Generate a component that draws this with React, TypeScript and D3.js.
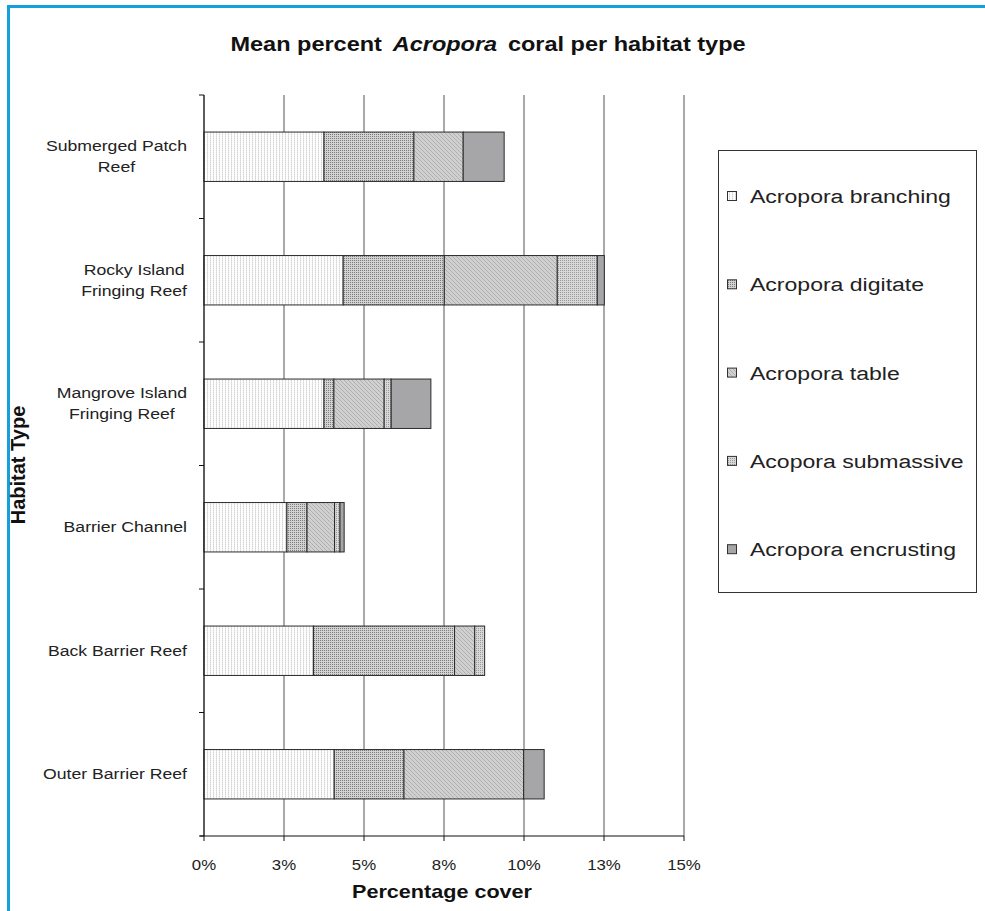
import React from 'react';
import * as d3 from 'd3';

const categories = [
  'Submerged Patch\nReef',
  'Rocky Island\nFringing Reef',
  'Mangrove Island\nFringing Reef',
  'Barrier Channel',
  'Back Barrier Reef',
  'Outer Barrier Reef',
];
const seriesNames = [
  'Acropora branching',
  'Acropora digitate',
  'Acropora table',
  'Acopora submassive',
  'Acropora encrusting',
];
const branching = [3.75, 4.35, 3.75, 2.59, 3.42, 4.07];
const digitate = [2.81, 3.16, 0.31, 0.63, 4.41, 2.18];
const table = [1.54, 3.53, 1.57, 0.86, 0.63, 3.74];
const submassive = [0, 1.25, 0.22, 0.17, 0.31, 0];
const encrusting = [1.28, 0.22, 1.24, 0.13, 0, 0.64];
const xTickValues = [0, 2.5, 5, 7.5, 10, 12.5, 15];
const xTickLabels = ['0%', '3%', '5%', '8%', '10%', '13%', '15%'];

const FONT = "'Liberation Sans', Arial, sans-serif";
const SX = 1.2;
const fills = ['url(#pBranch)', 'url(#pDigit)', 'url(#pTable)', 'url(#pSub)', '#a6a6a9'];

let ctx: CanvasRenderingContext2D | null = null;
function measure(text: string, font: string) {
  if (!ctx) ctx = document.createElement('canvas').getContext('2d');
  ctx!.font = font;
  return ctx!.measureText(text).width;
}

export default function App() {
  const W = 985, H = 911;
  const x = d3.scaleLinear().domain([0, 15]).range([204, 684]);
  const y = d3.scaleBand<string>().domain(categories).range([95, 836]).paddingInner(0.6).paddingOuter(0.3);
  const keys = ['b', 'd', 't', 's', 'e'];
  const rows = categories.map((c, i) => ({
    cat: c, b: branching[i], d: digitate[i], t: table[i], s: submassive[i], e: encrusting[i],
  }));
  const stacked = d3.stack<any>().keys(keys)(rows);
  const step = y.step();
  const y0 = y.range()[0];
  const boundaries = d3.range(categories.length + 1).map((i) => y0 + i * step);
  const catSize = 14.7;
  const catFont = `${catSize}px ${FONT}`;

  return (
    <svg width={W} height={H} style={{ position: 'absolute', left: 0, top: 0, background: '#fff' }}>
      <defs>
        <pattern id="pBranch" width={3} height={2} patternUnits="userSpaceOnUse">
          <rect width={3} height={2} fill="#fdfdfd" />
          <rect width={1} height={1} fill="#d4d4d4" />
          <rect y={1} width={1} height={1} fill="#e6e6e6" />
        </pattern>
        <pattern id="pDigit" width={2} height={2} patternUnits="userSpaceOnUse">
          <rect width={2} height={2} fill="#d2d2d2" />
          <rect width={1} height={1} fill="#7c7c7c" />
        </pattern>
        <pattern id="pTable" width={4} height={4} patternUnits="userSpaceOnUse">
          <rect width={4} height={4} fill="#d0d0d0" />
          <rect x={0} y={0} width={1} height={1} fill="#acacac" />
          <rect x={1} y={1} width={1} height={1} fill="#b4b4b4" />
          <rect x={2} y={2} width={1} height={1} fill="#acacac" />
          <rect x={3} y={3} width={1} height={1} fill="#b4b4b4" />
        </pattern>
        <pattern id="pSub" width={2} height={2} patternUnits="userSpaceOnUse">
          <rect width={2} height={2} fill="#d8d8d8" />
          <rect width={1} height={1} fill="#9a9a9a" />
        </pattern>
      </defs>

      {/* blue frame */}
      <line x1={8.5} y1={5} x2={8.5} y2={H} stroke="#14a0dc" strokeWidth={3} />
      <line x1={7} y1={6.5} x2={W} y2={6.5} stroke="#14a0dc" strokeWidth={3} />

      {/* title */}
      <g transform={`translate(488,51) scale(${SX},1)`}>
        <text textAnchor="middle" fontFamily={FONT} fontWeight="bold" fontSize={19.6} fill="#111">
          <tspan>Mean percent</tspan>
          <tspan dx={9} fontStyle="italic">Acropora</tspan>
          <tspan dx={9}>coral per habitat type</tspan>
        </text>
      </g>

      {/* gridlines */}
      {xTickValues.map((v) => (
        <line key={'g' + v} x1={x(v)} x2={x(v)} y1={95} y2={836} stroke="#555" strokeWidth={1} />
      ))}

      {/* bars */}
      {stacked.map((layer, li) =>
        layer.map((d, i) => {
          const w = x(d[1]) - x(d[0]);
          if (w <= 0) return null;
          return (
            <rect key={li + '-' + i} x={x(d[0])} y={y(categories[i])!} width={w} height={y.bandwidth()}
              fill={fills[li]} stroke="#2a2a2a" strokeWidth={1} />
          );
        })
      )}

      {/* axes */}
      <line x1={204} x2={204} y1={95} y2={836} stroke="#111" />
      {boundaries.map((b, i) => (
        <line key={'yt' + i} x1={199} x2={204} y1={b} y2={b} stroke="#111" />
      ))}
      <line x1={200} x2={684} y1={836} y2={836} stroke="#111" />
      {xTickValues.map((v, i) => (
        <g key={'xt' + v}>
          <line x1={x(v)} x2={x(v)} y1={836} y2={841} stroke="#111" />
          <g transform={`translate(${x(v)},870) scale(${SX},1)`}>
            <text textAnchor="middle" fontFamily={FONT} fontSize={14} fill="#222">{xTickLabels[i]}</text>
          </g>
        </g>
      ))}

      {/* category labels */}
      {categories.map((c) => {
        const lines = c.split('\n');
        const maxW = Math.max(...lines.map((l) => measure(l, catFont))) * SX;
        const cx = 187 - maxW / 2;
        const cy = y(c)! + y.bandwidth() / 2;
        return (
          <g key={'cl' + c}>
            {lines.map((l, j) => (
              <g key={j} transform={`translate(${cx},${cy + (j - (lines.length - 1) / 2) * 21 + 5}) scale(${SX},1)`}>
                <text textAnchor="middle" fontFamily={FONT} fontSize={catSize} fill="#222">{l}</text>
              </g>
            ))}
          </g>
        );
      })}

      {/* axis titles */}
      <g transform={`translate(442,898) scale(${SX},1)`}>
        <text textAnchor="middle" fontFamily={FONT} fontWeight="bold" fontSize={18} fill="#111">Percentage cover</text>
      </g>
      <text transform="translate(25,465) rotate(-90)" textAnchor="middle" fontFamily={FONT} fontWeight="bold" fontSize={20} fill="#111">Habitat Type</text>

      {/* legend */}
      <rect x={718.5} y={150.5} width={258} height={442} fill="#fff" stroke="#333" />
      {seriesNames.map((n, i) => {
        const ly = 196 + i * 88.3;
        return (
          <g key={'lg' + i}>
            <rect x={727.5} y={ly - 4.5} width={9} height={9} fill={fills[i]} stroke="#333" strokeWidth={1} />
            <g transform={`translate(750,${ly + 7}) scale(${SX},1)`}>
              <text fontFamily={FONT} fontSize={19.2} fill="#222">{n}</text>
            </g>
          </g>
        );
      })}
    </svg>
  );
}
